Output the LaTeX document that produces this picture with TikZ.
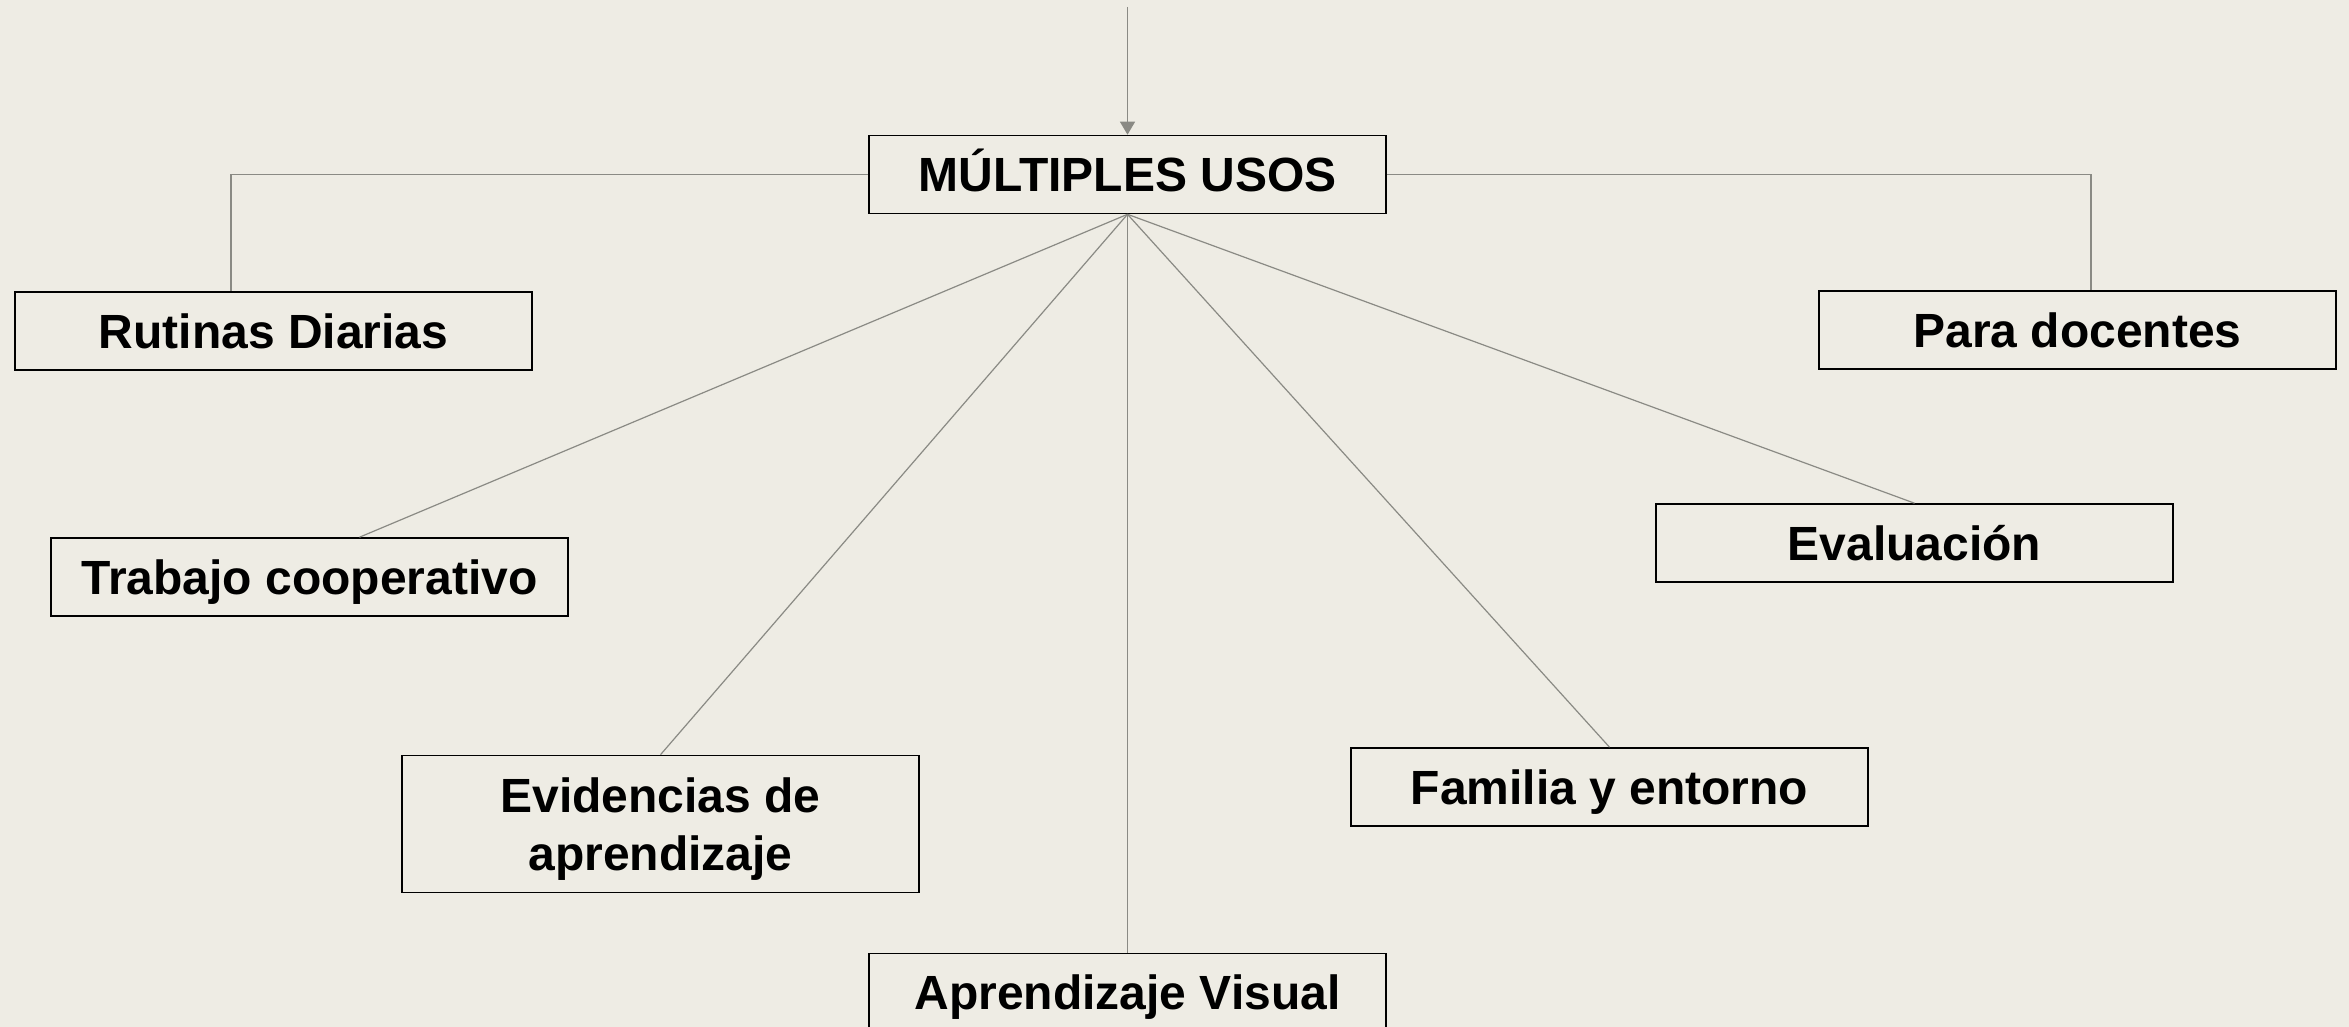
\documentclass[tikz,border=0pt]{standalone}
\usepackage{fontspec}
\setmainfont{Liberation Sans}
\usetikzlibrary{arrows.meta,calc}
\definecolor{bgcol}{HTML}{EEECE4}
\definecolor{linecol}{HTML}{8A8A84}
\begin{document}
\begin{tikzpicture}[x=0.5pt,y=-0.5pt,
  box/.style={draw=black, line width=0.8pt, minimum width=258.5pt, minimum height=39pt,
              inner sep=0pt, text height=17.2pt, text depth=0pt,
              font=\fontsize{24}{29}\selectfont\bfseries, align=center},
  conn/.style={draw=linecol, line width=0.6pt}]
\fill[bgcol] (0,0) rectangle (2349,1027);
\useasboundingbox (0,0) rectangle (2349,1027);

\node[box] (top) at (1127.5,174.5) {MÚLTIPLES USOS};
\node[box] (rut) at (273.5,331) {Rutinas Diarias};
\node[box] (para) at (2077.5,330) {Para docentes};
\node[box] (trab) at (309.5,577) {Trabajo cooperativo};
\node[box, minimum height=68.5pt, text height={}, text depth={}] (evid) at (660.5,824)
  {\rule{0pt}{22.5pt}Evidencias de\\aprendizaje};
\node[box] (apr) at (1127.5,992.5) {Aprendizaje Visual};
\node[box] (fam) at (1609.5,787) {Familia y entorno};
\node[box] (eval) at (1914.5,543) {Evaluación};

\coordinate (src) at (1127.5,7);
\draw[conn, -{Triangle[length=6.5pt,width=7.5pt]}] (src) -- (top.north);
\draw[conn] (top.west) -| ($(rut.north)+(-42.5,0)$);
\draw[conn] (top.east) -| ($(para.north)+(13.5,0)$);
\draw[conn] (top.south) -- ($(trab.north)+(50,0)$);
\draw[conn] (top.south) -- (evid.north);
\draw[conn] (top.south) -- (apr.north);
\draw[conn] (top.south) -- (fam.north);
\draw[conn] (top.south) -- (eval.north);
\end{tikzpicture}
\end{document}
